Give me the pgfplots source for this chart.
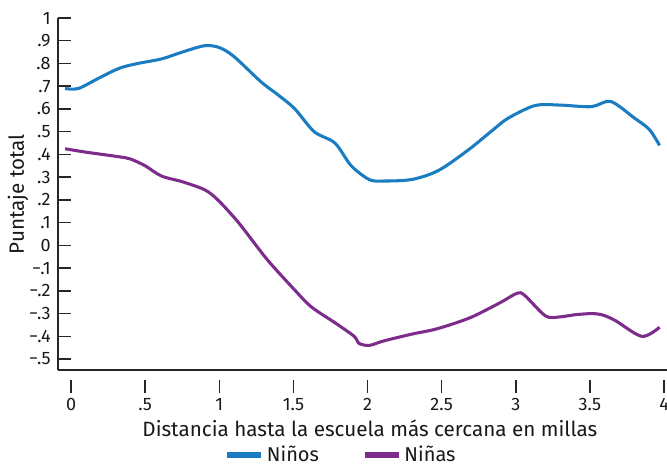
\documentclass[border=0pt]{standalone}
\usepackage{pgfplots}
\pgfplotsset{compat=1.18}
\usepackage{fontspec}
\setmainfont{Fira Sans}
\definecolor{ninos}{HTML}{1B7DC1}
\definecolor{ninas}{HTML}{7D2C8C}
\begin{document}
\begin{tikzpicture}
\begin{axis}[
  scale only axis,
  width=456.75pt, height=264pt,
  xmin=-0.088, xmax=4.02,
  ymin=-0.548, ymax=1.0,
  axis x line*=bottom, axis y line*=left,
  axis line style={line width=1.1pt, black!85},
  xtick={0,0.5,1,1.5,2,2.5,3,3.5,4},
  xticklabels={0,.5,1,1.5,2,2.5,3,3.5,4},
  ytick={-0.5,-0.4,-0.3,-0.2,-0.1,0,0.1,0.2,0.3,0.4,0.5,0.6,0.7,0.8,0.9,1},
  yticklabels={−.5,−.4,−.3,−.2,−.1,0,.1,.2,.3,.4,.5,.6,.7,.8,.9,1},
  major tick length=9.75pt,
  xtick align=outside, ytick align=inside,
  major tick style={line width=1.1pt, black!85},
  xtick style={yshift=-7.5pt},
  xticklabel style={font=\fontsize{13.5}{15}\selectfont, text=black!90, yshift=-8pt},
  yticklabel style={font=\fontsize{13.5}{15}\selectfont, text=black!90, xshift=-2pt},
  xlabel={Distancia hasta la escuela más cercana en millas},
  ylabel={Puntaje total},
  xlabel style={font=\fontsize{15.5}{18}\selectfont, text=black!90, at={(axis description cs:0.512,-0.165)}, anchor=center},
  ylabel style={font=\fontsize{15.5}{18}\selectfont, text=black!90, at={(axis description cs:-0.0657,0.5)}, anchor=center, rotate=0},
  legend columns=2,
  legend style={draw=none, fill=none, at={(0.465,0)}, anchor=north, yshift=-54pt,
    font=\fontsize{15}{18}\selectfont, text=black!90, inner sep=1pt,
    /tikz/every even column/.append style={column sep=30pt}},
  legend image code/.code={\draw[line width=4.5pt] (0cm,0cm) -- (0.9cm,0cm);},
]
\addplot[ninos, line width=2.3pt, smooth, tension=0.5] coordinates {
(-0.04,0.69) (0.05,0.69) (0.2,0.74) (0.33,0.78) (0.45,0.80) (0.61,0.82) (0.75,0.85)
(0.9,0.878) (1.0,0.87) (1.1,0.83) (1.28,0.72) (1.4,0.66) (1.51,0.60) (1.64,0.50)
(1.78,0.45) (1.89,0.35) (2.01,0.29) (2.1,0.283) (2.3,0.29) (2.48,0.33) (2.68,0.42)
(2.85,0.51) (2.95,0.56) (3.13,0.615) (3.3,0.617) (3.51,0.61) (3.64,0.633) (3.8,0.56)
(3.9,0.51) (3.97,0.44)
};
\addlegendentry{Niños}
\addplot[ninas, line width=2.3pt, smooth, tension=0.5] coordinates {
(-0.04,0.425) (0.1,0.41) (0.32,0.39) (0.4,0.38) (0.5,0.35) (0.61,0.305) (0.75,0.28)
(0.9,0.245) (0.99,0.20) (1.13,0.10) (1.32,-0.06) (1.5,-0.19) (1.62,-0.27) (1.78,-0.34)
(1.91,-0.40) (1.94,-0.43) (2.01,-0.44) (2.11,-0.42) (2.3,-0.39) (2.45,-0.37) (2.6,-0.34)
(2.72,-0.31) (2.9,-0.25) (3.01,-0.21) (3.06,-0.22) (3.2,-0.31) (3.29,-0.315) (3.4,-0.305)
(3.51,-0.30) (3.58,-0.305) (3.67,-0.33) (3.85,-0.40) (3.97,-0.36)
};
\addlegendentry{Niñas}
\end{axis}
\pgfresetboundingbox
\path[use as bounding box] ([shift={(-43.5pt,-75pt)}]current axis.south west) rectangle ([shift={(0pt,13.5pt)}]current axis.north east);
\end{tikzpicture}
\end{document}
